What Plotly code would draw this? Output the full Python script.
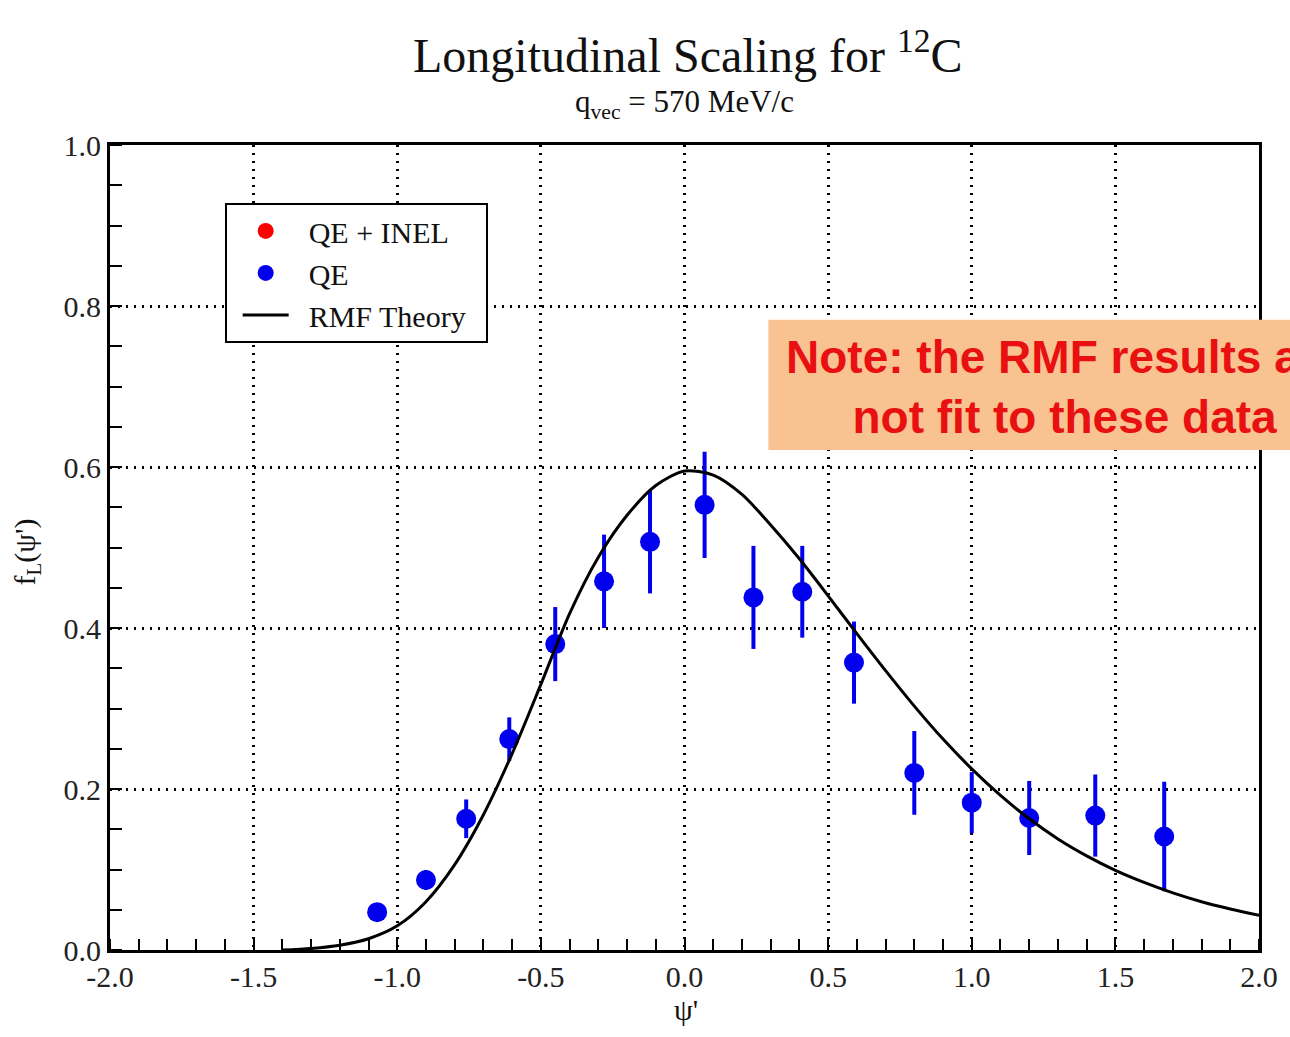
import plotly.graph_objects as go

# Quasi-elastic longitudinal scaling data for 12C at q = 570 MeV/c
qe_x = [-1.07, -0.90, -0.76, -0.61, -0.45, -0.28, -0.12, 0.07, 0.24, 0.41, 0.59, 0.80, 1.00, 1.20, 1.43, 1.67]
qe_y = [0.047, 0.087, 0.163, 0.262, 0.380, 0.458, 0.507, 0.553, 0.438, 0.445, 0.357, 0.220, 0.183, 0.164, 0.167, 0.141]
qe_err = [0.010, 0.012, 0.024, 0.027, 0.046, 0.058, 0.064, 0.066, 0.064, 0.057, 0.051, 0.052, 0.038, 0.046, 0.051, 0.068]

# QE + inelastic series (no points in this kinematic window)
qe_inel_x = [None]
qe_inel_y = [None]

# Relativistic mean-field prediction
rmf_x = [-1.40, -1.30, -1.20, -1.10, -1.00, -0.90, -0.80, -0.70, -0.60, -0.50, -0.40, -0.30,
         -0.20, -0.10, 0.00, 0.10, 0.20, 0.30, 0.40, 0.50, 0.60, 0.70, 0.80, 0.90, 1.00,
         1.10, 1.20, 1.30, 1.40, 1.50, 1.60, 1.70, 1.80, 1.90, 2.00]
rmf_y = [0.000, 0.002, 0.006, 0.014, 0.030, 0.060, 0.106, 0.168, 0.244, 0.330, 0.418, 0.488,
         0.540, 0.577, 0.595, 0.590, 0.566, 0.528, 0.486, 0.440, 0.393, 0.347, 0.303, 0.262, 0.225,
         0.192, 0.163, 0.138, 0.117, 0.099, 0.084, 0.071, 0.060, 0.051, 0.043]

x_ticks = [-2.0, -1.5, -1.0, -0.5, 0.0, 0.5, 1.0, 1.5, 2.0]
y_ticks = [0.0, 0.2, 0.4, 0.6, 0.8, 1.0]

SERIF = "Liberation Serif"
BLUE = "#0000EE"
PAD = "\u00a0\u00a0"  # gap between legend symbol and label

fig = go.Figure()

fig.add_trace(go.Scatter(
    x=qe_inel_x, y=qe_inel_y, mode="markers", name=PAD + "QE + INEL",
    marker=dict(color="#FF0000", size=20),
))
fig.add_trace(go.Scatter(
    x=qe_x, y=qe_y, mode="markers", name=PAD + "QE",
    marker=dict(color=BLUE, size=20),
    error_y=dict(type="data", array=qe_err, color=BLUE, thickness=4, width=0),
))
fig.add_trace(go.Scatter(
    x=rmf_x, y=rmf_y, mode="lines", name=PAD + "RMF Theory" + PAD,
    line=dict(color="black", width=3, shape="spline", smoothing=0.8),
))

axis_common = dict(
    showline=True, linecolor="black", linewidth=3, mirror=True,
    showgrid=True, gridcolor="black", gridwidth=2.5, griddash="2px,6px",
    zeroline=False, ticks="", ticklen=0,
    tickfont=dict(family=SERIF, size=30, color="#222"),
)

fig.update_xaxes(
    range=[-2.0, 2.0], tickvals=x_ticks, ticktext=[f"{v:.1f}" for v in x_ticks],
    ticklabelstandoff=-2,
    minor=dict(dtick=0.1, tick0=0, ticks="inside", ticklen=11, tickwidth=2,
               tickcolor="black", showgrid=False),
    **axis_common,
)
fig.update_yaxes(
    range=[0.0, 1.0], tickvals=y_ticks, ticktext=[f"{v:.1f}" for v in y_ticks],
    minor=dict(dtick=0.05, tick0=0, ticks="inside", ticklen=12, tickwidth=2,
               tickcolor="black", showgrid=False),
    **axis_common,
)

fig.update_layout(
    width=1290, height=1037,
    margin=dict(l=110, r=29, t=145, b=87),
    paper_bgcolor="white", plot_bgcolor="white",
    font=dict(family=SERIF, color="#111"),
    showlegend=True,
    legend=dict(
        x=0.0998, y=0.928, xanchor="left", yanchor="top",
        bgcolor="white", bordercolor="black", borderwidth=2,
        font=dict(family=SERIF, size=30, color="#111"),
        itemwidth=46, indentation=11,
    ),
    shapes=[dict(
        type="rect", xref="paper", yref="paper",
        x0=0.573, x1=1.09, y0=0.621, y1=0.783,
        fillcolor="#F9C391", line=dict(width=0), layer="above",
    )],
    annotations=[
        dict(text="Longitudinal Scaling for <sup>12</sup>C", xref="paper", yref="paper",
             x=0.503, y=1.1155, xanchor="center", yanchor="middle", showarrow=False,
             font=dict(family=SERIF, size=48, color="#111")),
        dict(text="q<sub>vec</sub> = 570 MeV/c", xref="paper", yref="paper",
             x=0.5, y=1.051, xanchor="center", yanchor="middle", showarrow=False,
             font=dict(family=SERIF, size=31, color="#111")),
        dict(text="ψ'", xref="paper", yref="paper",
             x=0.5009, y=-0.0745, xanchor="center", yanchor="middle", showarrow=False,
             font=dict(family=SERIF, size=30, color="#111")),
        dict(text="f<sub>L</sub>(ψ')", xref="paper", yref="paper",
             x=-0.072, y=0.494, xanchor="center", yanchor="middle", showarrow=False,
             textangle=-90, font=dict(family=SERIF, size=30, color="#111")),
        dict(text="Note: the RMF results are<br>not fit to these data", xref="paper", yref="paper",
             x=0.831, y=0.699, xanchor="center", yanchor="middle", showarrow=False,
             align="center",
             font=dict(family="Liberation Sans", size=46, color="#E81010", weight="bold")),
    ],
)

fig.write_html("out.html")
